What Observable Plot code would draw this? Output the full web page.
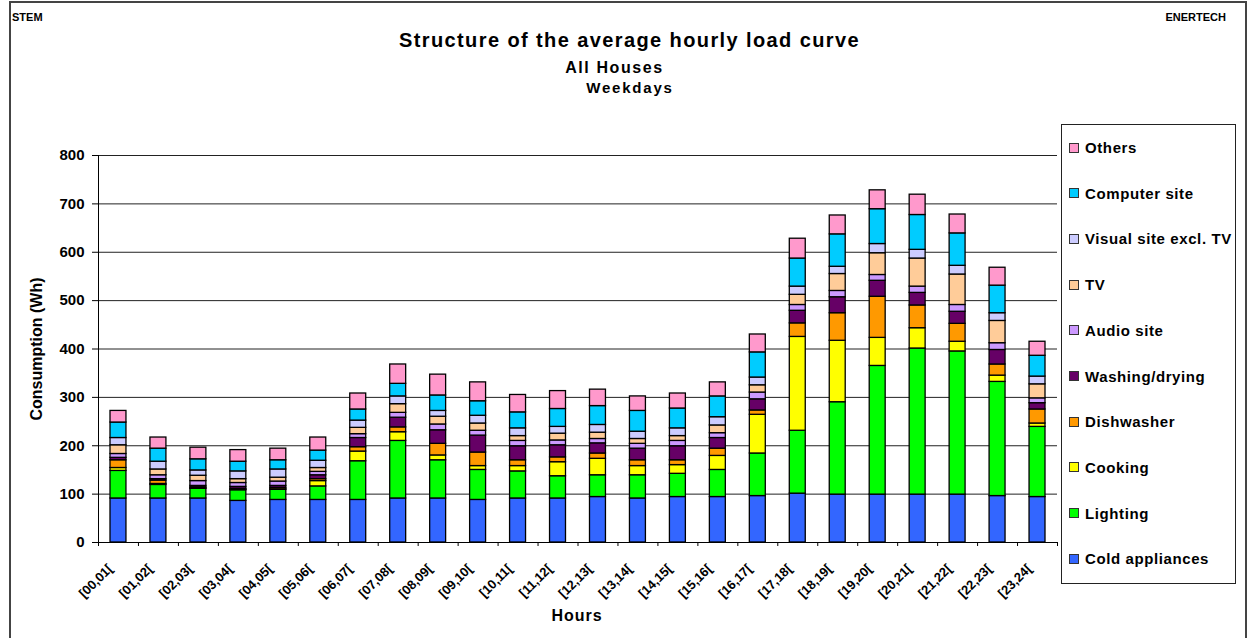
<!DOCTYPE html>
<html>
<head>
<meta charset="utf-8">
<script src="https://cdn.jsdelivr.net/npm/d3@7"></script>
<script src="https://cdn.jsdelivr.net/npm/@observablehq/plot@0.6"></script>
<style>
  html, body { margin: 0; padding: 0; background: #fff; overflow: hidden; }
  #page { position: relative; width: 1254px; height: 638px; font-family: "Liberation Sans", Arial, sans-serif; font-weight: bold; color: #000; }
  #frame { position: absolute; left: 9px; top: 1px; width: 1238px; height: 660px; border: 2px solid #444; box-sizing: border-box; }
  .t { position: absolute; white-space: nowrap; line-height: 1; }
  .c { transform: translateX(-50%); }
  #plot { position: absolute; left: 0; top: 0; }
  #legend { position: absolute; left: 1061px; top: 124px; width: 175px; height: 460px; border: 1px solid #222; box-sizing: border-box; background: #fff; }
  .item { position: absolute; left: 7px; display: flex; align-items: center; font-size: 15px; letter-spacing: 0.6px; line-height: 1; }
  .sw { width: 8px; height: 8px; border: 1px solid #333; margin-right: 6px; flex: none; }
</style>
</head>
<body>
<div id="page">
  <div id="frame"></div>
  <div class="t" style="left:12px; top:12px; font-size:11px;">STEM</div>
  <div class="t" style="right:28px; top:12px; font-size:11px;">ENERTECH</div>
  <div class="t c" style="left:629.5px; top:30px; font-size:20px; letter-spacing:1.4px;">Structure of the average hourly load curve</div>
  <div class="t c" style="left:614.5px; top:60px; font-size:16px; letter-spacing:1.6px;">All Houses</div>
  <div class="t c" style="left:630px; top:80px; font-size:15px; letter-spacing:1.8px;">Weekdays</div>
  <div class="t" style="left:37px; top:349px; font-size:16px; transform: translate(-50%, -50%) rotate(-90deg);">Consumption (Wh)</div>
  <div class="t c" style="left:577px; top:608px; font-size:16px; letter-spacing:1px;">Hours</div>
  <div id="plot"></div>
  <div id="legend"></div>
</div>
<script>
// Hour slots along the x axis
const hours = ["[00,01[", "[01,02[", "[02,03[", "[03,04[", "[04,05[", "[05,06[", "[06,07[", "[07,08[",
  "[08,09[", "[09,10[", "[10,11[", "[11,12[", "[12,13[", "[13,14[", "[14,15[", "[15,16[",
  "[16,17[", "[17,18[", "[18,19[", "[19,20[", "[20,21[", "[21,22[", "[22,23[", "[23,24["];

// End uses, in stacking order (bottom to top)
const categories = ["Cold appliances", "Lighting", "Cooking", "Dishwasher", "Washing/drying",
  "Audio site", "TV", "Visual site excl. TV", "Computer site", "Others"];
const colors = ["#3366FF", "#00FF00", "#FFFF00", "#FF9900", "#660066",
  "#CC99FF", "#FFCC99", "#CCCCFF", "#00CCFF", "#FF99CC"];

// Average consumption per hour slot (Wh)
const cold       = [91, 91, 91, 86, 88, 88, 88, 91, 91, 88, 91, 91, 94, 91, 94, 94, 96, 101, 99, 99, 99, 99, 96, 94];
const lighting   = [57, 28, 20, 22, 21, 28, 80, 119, 79, 62, 56, 46, 45, 48, 48, 56, 88, 130, 191, 266, 302, 296, 236, 145];
const cooking    = [6, 2, 1, 1, 1, 11, 20, 18, 10, 8, 11, 29, 34, 19, 18, 29, 80, 194, 127, 58, 42, 20, 13, 7];
const dishwasher = [16, 7, 2, 2, 3, 4, 9, 10, 24, 28, 12, 10, 11, 12, 10, 15, 9, 28, 57, 85, 47, 37, 23, 29];
const washing    = [5, 3, 3, 4, 4, 8, 19, 20, 28, 35, 29, 25, 21, 24, 29, 22, 23, 26, 33, 33, 26, 25, 30, 13];
const audio      = [8, 8, 10, 8, 9, 7, 8, 10, 12, 10, 11, 10, 9, 10, 11, 10, 14, 12, 13, 12, 13, 14, 14, 10];
const tv         = [18, 12, 11, 8, 8, 8, 13, 18, 16, 15, 10, 14, 13, 10, 10, 16, 15, 21, 35, 45, 58, 63, 46, 29];
const visual     = [15, 16, 11, 16, 17, 15, 15, 16, 12, 16, 16, 14, 16, 15, 16, 17, 16, 17, 15, 19, 18, 18, 16, 16];
const computer   = [32, 27, 23, 20, 19, 21, 23, 26, 32, 30, 33, 37, 39, 43, 41, 43, 52, 58, 67, 72, 72, 67, 57, 43];
const others     = [24, 23, 24, 24, 24, 27, 33, 40, 43, 39, 36, 37, 34, 30, 31, 29, 37, 41, 39, 39, 42, 39, 37, 29];

const yTicks = [0, 100, 200, 300, 400, 500, 600, 700, 800];

const series = [cold, lighting, cooking, dishwasher, washing, audio, tv, visual, computer, others];

// Long table: one row per (end use, hour slot)
const table = [];
series.forEach((values, k) => {
  values.forEach((value, i) => table.push({i, hour: hours[i], category: categories[k], value}));
});

const chart = Plot.plot({
  width: 1254,
  height: 638,
  marginLeft: 98,
  marginRight: 197,
  marginTop: 155,
  marginBottom: 96,
  style: {fontFamily: '"Liberation Sans", Arial, sans-serif', background: "transparent", color: "#000"},
  x: {domain: [0, 24], axis: null},
  y: {domain: [0, 800], axis: null},
  color: {domain: categories, range: colors},
  marks: [
    Plot.gridY(yTicks.slice(1), {stroke: "#222", strokeOpacity: 1, strokeWidth: 1}),
    Plot.rectY(table, Plot.stackY({
      x1: "i",
      x2: d => d.i + 1,
      y: "value",
      fill: "category",
      stroke: "#000",
      strokeWidth: 1.3,
      insetLeft: 12,
      insetRight: 12,
      title: d => `${d.hour} ${d.category}: ${d.value} Wh`
    })),
    Plot.ruleY([0], {stroke: "#000"}),
    Plot.ruleX([0], {stroke: "#000"}),
    Plot.axisY(yTicks, {tickSize: 6, tickPadding: 8, fontSize: 15, fontWeight: "bold", label: null, letterSpacing: 1}),
    Plot.axisX(d3.range(25), {tickSize: 4, tickFormat: () => "", label: null}),
    Plot.text(hours, {
      x: (d, i) => i + 0.5,
      frameAnchor: "bottom",
      text: d => d,
      rotate: -45,
      textAnchor: "end",
      lineAnchor: "middle",
      dx: -8,
      dy: 24,
      fontSize: 13,
      fontWeight: "bold"
    })
  ]
});
document.getElementById("plot").appendChild(chart);

// Legend, top entry = top of the stack
const legend = document.getElementById("legend");
categories.slice().reverse().forEach((name, j) => {
  const k = categories.length - 1 - j;
  const item = document.createElement("div");
  item.className = "item";
  item.style.top = (23 + j * 45.7 - 8) + "px";
  const sw = document.createElement("span");
  sw.className = "sw";
  sw.style.background = colors[k];
  const label = document.createElement("span");
  label.textContent = name;
  item.appendChild(sw);
  item.appendChild(label);
  legend.appendChild(item);
});
</script>
</body>
</html>
